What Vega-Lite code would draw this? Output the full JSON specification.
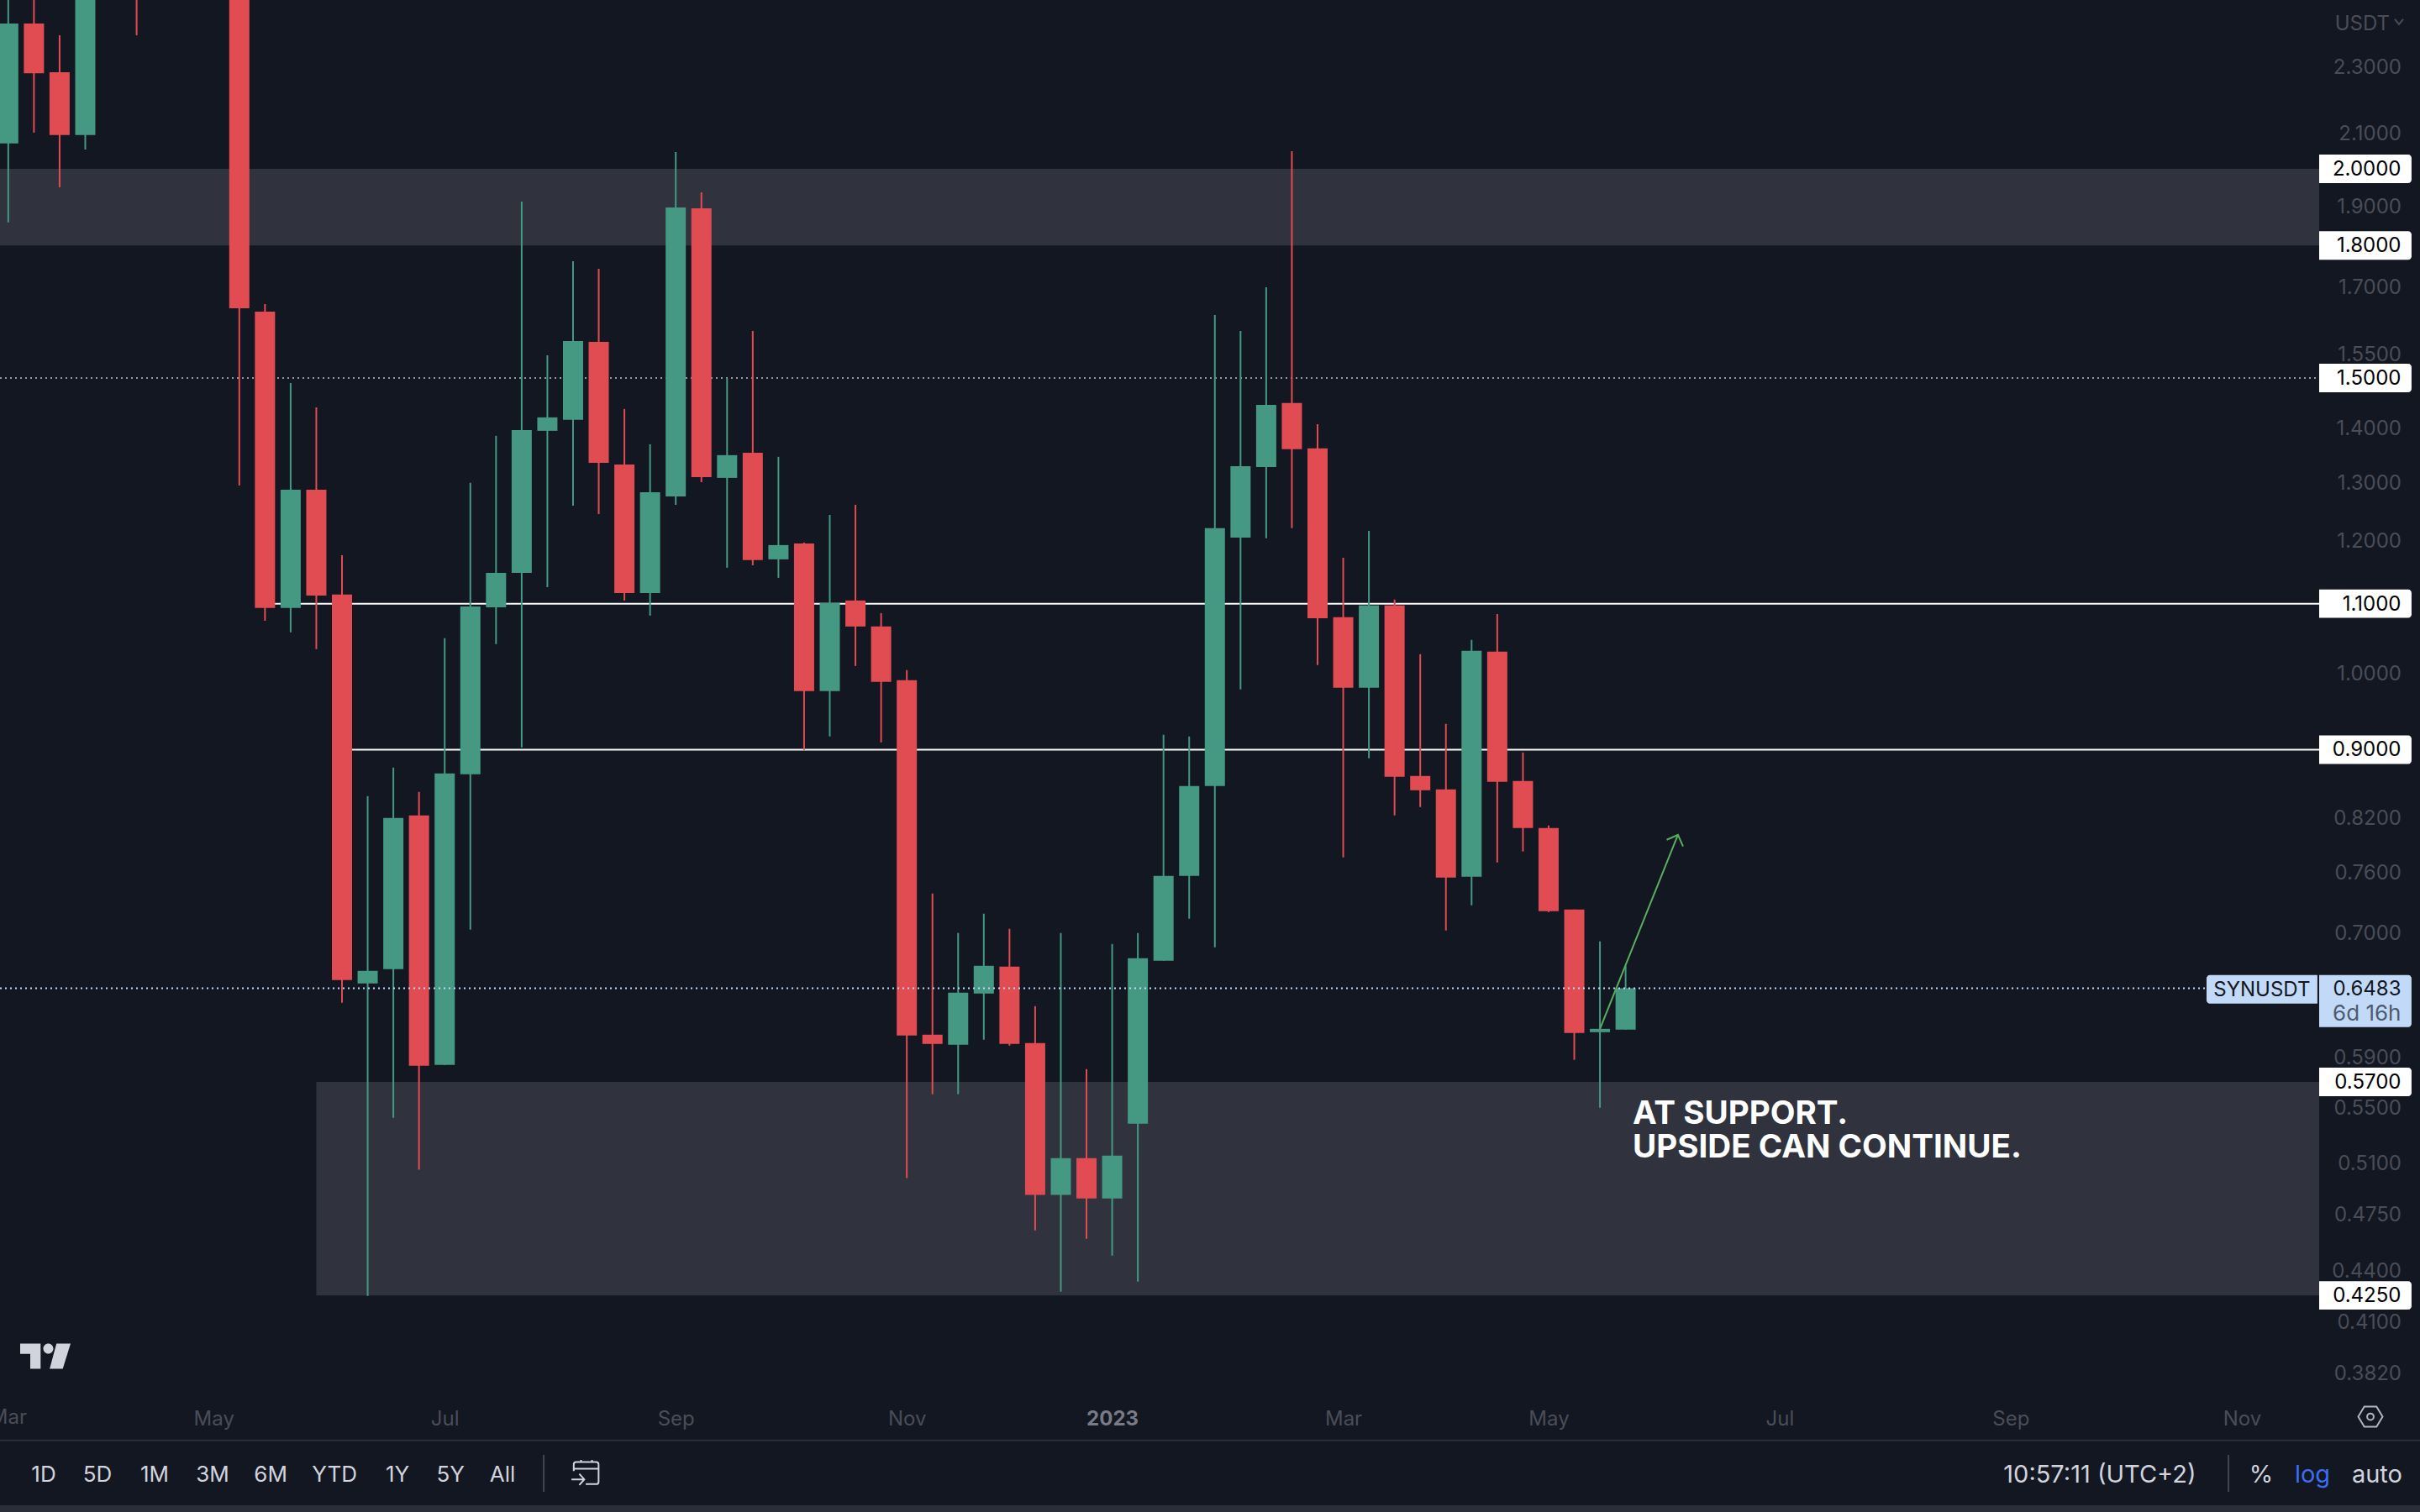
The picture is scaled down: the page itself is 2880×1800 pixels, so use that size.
{
"$schema":"https://vega.github.io/schema/vega-lite/v6.json",
"width":2880,"height":1800,"padding":0,"autosize":{"type":"fit","contains":"padding"},"background":"#131722",
"config":{"view":{"stroke":null},"text":{"font":"Inter"},"axis":{"labelFont":"Inter"}},
"datasets":{
"candles":[
{"date":"2022-03-07","open":2.071,"high":2.642,"low":1.858,"close":2.442},
{"date":"2022-03-14","open":2.442,"high":2.611,"low":2.102,"close":2.281},
{"date":"2022-03-21","open":2.284,"high":2.403,"low":1.950,"close":2.095},
{"date":"2022-03-28","open":2.095,"high":2.831,"low":2.054,"close":2.704},
{"date":"2022-04-11","open":3.0,"high":3.105,"low":2.403,"close":2.582},
{"date":"2022-05-09","open":3.567,"high":3.779,"low":1.294,"close":1.651},
{"date":"2022-05-16","open":1.6436,"high":1.6608,"low":1.0746,"close":1.0934},
{"date":"2022-05-23","open":1.0934,"high":1.4900,"low":1.0575,"close":1.2867},
{"date":"2022-05-30","open":1.2867,"high":1.4409,"low":1.0333,"close":1.1125},
{"date":"2022-06-06","open":1.1138,"high":1.1759,"low":0.6355,"close":0.6556},
{"date":"2022-06-13","open":0.6526,"high":0.8443,"low":0.4247,"close":0.6640},
{"date":"2022-06-20","open":0.6655,"high":0.8781,"low":0.5425,"close":0.8193},
{"date":"2022-06-27","open":0.8222,"high":0.8492,"low":0.5051,"close":0.5828},
{"date":"2022-07-04","open":0.5835,"high":1.0490,"low":0.5835,"close":0.8710},
{"date":"2022-07-11","open":0.8700,"high":1.2987,"low":0.7027,"close":1.0959},
{"date":"2022-07-18","open":1.0946,"high":1.3855,"low":1.0405,"close":1.1477},
{"date":"2022-07-25","open":1.1477,"high":1.9120,"low":0.9028,"close":1.3967},
{"date":"2022-08-01","open":1.3951,"high":1.5478,"low":1.1254,"close":1.4211},
{"date":"2022-08-08","open":1.4162,"high":1.7615,"low":1.2588,"close":1.5785},
{"date":"2022-08-15","open":1.5767,"high":1.7433,"low":1.2443,"close":1.3351},
{"date":"2022-08-22","open":1.3321,"high":1.4376,"low":1.1048,"close":1.1163},
{"date":"2022-08-29","open":1.1163,"high":1.3695,"low":1.0821,"close":1.2823},
{"date":"2022-09-05","open":1.2749,"high":2.0468,"low":1.2602,"close":1.8966},
{"date":"2022-09-12","open":1.8944,"high":1.9364,"low":1.3001,"close":1.3092},
{"date":"2022-09-19","open":1.3077,"high":1.5004,"low":1.1557,"close":1.3492},
{"date":"2022-09-26","open":1.3538,"high":1.6005,"low":1.1597,"close":1.1678},
{"date":"2022-10-03","open":1.1691,"high":1.3461,"low":1.1398,"close":1.1923},
{"date":"2022-10-10","open":1.1950,"high":1.1964,"low":0.8996,"close":0.9753},
{"date":"2022-10-17","open":0.9753,"high":1.2429,"low":0.9164,"close":1.1010},
{"date":"2022-10-24","open":1.1048,"high":1.2602,"low":1.0097,"close":1.0660},
{"date":"2022-10-31","open":1.0660,"high":1.0858,"low":0.9090,"close":0.9878},
{"date":"2022-11-07","open":0.9901,"high":1.0039,"low":0.4993,"close":0.6075},
{"date":"2022-11-14","open":0.6082,"high":0.7385,"low":0.5604,"close":0.6005},
{"date":"2022-11-21","open":0.5998,"high":0.6995,"low":0.5604,"close":0.6444},
{"date":"2022-11-28","open":0.6436,"high":0.7183,"low":0.6040,"close":0.6686},
{"date":"2022-12-05","open":0.6678,"high":0.7035,"low":0.5991,"close":0.6005},
{"date":"2022-12-12","open":0.6012,"high":0.6326,"low":0.4647,"close":0.4879},
{"date":"2022-12-19","open":0.4879,"high":0.6995,"low":0.4271,"close":0.5133},
{"date":"2022-12-26","open":0.5133,"high":0.5801,"low":0.4594,"close":0.4856},
{"date":"2023-01-02","open":0.4856,"high":0.6890,"low":0.4489,"close":0.5151},
{"date":"2023-01-09","open":0.5382,"high":0.6995,"low":0.4331,"close":0.6756},
{"date":"2023-01-16","open":0.6733,"high":0.9185,"low":0.6733,"close":0.7566},
{"date":"2023-01-23","open":0.7566,"high":0.9164,"low":0.7133,"close":0.8561},
{"date":"2023-01-30","open":0.8561,"high":1.6361,"low":0.6859,"close":1.2202},
{"date":"2023-02-06","open":1.2047,"high":1.6005,"low":0.9776,"close":1.3290},
{"date":"2023-02-13","open":1.3275,"high":1.6995,"low":1.2034,"close":1.4459},
{"date":"2023-02-20","open":1.4493,"high":2.0492,"low":1.2202,"close":1.3601},
{"date":"2023-02-27","open":1.3617,"high":1.4080,"low":1.0109,"close":1.0783},
{"date":"2023-03-06","open":1.0796,"high":1.1718,"low":0.7761,"close":0.9799},
{"date":"2023-03-13","open":0.9799,"high":1.2159,"low":0.8893,"close":1.0972},
{"date":"2023-03-20","open":1.0972,"high":1.1061,"low":0.8222,"close":0.8670},
{"date":"2023-03-27","open":0.8680,"high":1.0262,"low":0.8317,"close":0.8511},
{"date":"2023-04-03","open":0.8521,"high":0.9324,"low":0.7019,"close":0.7548},
{"date":"2023-04-10","open":0.7557,"high":1.0465,"low":0.7266,"close":1.0309},
{"date":"2023-04-17","open":1.0297,"high":1.0845,"low":0.7707,"close":0.8610},
{"date":"2023-04-24","open":0.8620,"high":0.8965,"low":0.7824,"close":0.8081},
{"date":"2023-05-01","open":0.8081,"high":0.8109,"low":0.7199,"close":0.7208},
{"date":"2023-05-08","open":0.7224,"high":0.7224,"low":0.5875,"close":0.6096},
{"date":"2023-05-15","open":0.6103,"high":0.6914,"low":0.5501,"close":0.6131},
{"date":"2023-05-22","open":0.6124,"high":0.6686,"low":0.6124,"close":0.6483}
],
"zones":[
{"date":"2022-03-04T18:00:00Z","to":"2023-11-27T02:30:00Z","price":1.8,"top":2.0},
{"date":"2022-05-30","to":"2023-11-27T02:30:00Z","price":0.425,"top":0.57}
],
"levels":[
{"date":"2022-05-16","to":"2023-11-27T02:30:00Z","price":1.1},
{"date":"2022-06-06","to":"2023-11-27T02:30:00Z","price":0.9}
],
"dotted":[{"date":"2022-03-04T18:00:00Z","to":"2023-11-26T12:00:00Z","price":1.5}],
"last":[{"date":"2022-03-04T18:00:00Z","to":"2023-10-27T09:30:00Z","price":0.6483}],
"arrow":[
{"date":"2023-05-15","price":0.6131,"part":"shaft"},
{"date":"2023-06-05T06:30:00Z","price":0.8006,"part":"shaft"},
{"date":"2023-06-02T05:00:00Z","price":0.7951,"part":"head"},
{"date":"2023-06-05T06:30:00Z","price":0.8006,"part":"head"},
{"date":"2023-06-06T16:00:00Z","price":0.7878,"part":"head"}
],
"tags":[
{"date":"2023-11-27T02:30:00Z","to":"2023-12-22T07:00:00Z","labelDate":"2023-12-19T10:30:00Z","level":2.0,"price":1.9612,"top":2.0396},
{"date":"2023-11-27T02:30:00Z","to":"2023-12-22T07:00:00Z","labelDate":"2023-12-19T10:30:00Z","level":1.8,"price":1.7651,"top":1.8356},
{"date":"2023-11-27T02:30:00Z","to":"2023-12-22T07:00:00Z","labelDate":"2023-12-19T10:30:00Z","level":1.5,"price":1.4709,"top":1.5297},
{"date":"2023-11-27T02:30:00Z","to":"2023-12-22T07:00:00Z","labelDate":"2023-12-19T10:30:00Z","level":1.1,"price":1.0787,"top":1.1218},
{"date":"2023-11-27T02:30:00Z","to":"2023-12-22T07:00:00Z","labelDate":"2023-12-19T10:30:00Z","level":0.9,"price":0.8825,"top":0.9178},
{"date":"2023-11-27T02:30:00Z","to":"2023-12-22T07:00:00Z","labelDate":"2023-12-19T10:30:00Z","level":0.57,"price":0.5589,"top":0.5813},
{"date":"2023-11-27T02:30:00Z","to":"2023-12-22T07:00:00Z","labelDate":"2023-12-19T10:30:00Z","level":0.425,"price":0.4168,"top":0.4334}
],
"note":[
{"date":"2023-05-23T22:00:00Z","price":0.5456,"label":"AT SUPPORT."},
{"date":"2023-05-23T22:00:00Z","price":0.5207,"label":"UPSIDE CAN CONTINUE."}
],
"toolbar":[
{"date":"2022-03-16T16:00:00Z","price":0.33237,"label":"1D"},
{"date":"2022-03-31T08:00:00Z","price":0.33237,"label":"5D"},
{"date":"2022-04-15T22:00:00Z","price":0.33237,"label":"1M"},
{"date":"2022-05-01T17:30:00Z","price":0.33237,"label":"3M"},
{"date":"2022-05-17T13:00:00Z","price":0.33237,"label":"6M"},
{"date":"2022-06-03T23:00:00Z","price":0.33237,"label":"YTD"},
{"date":"2022-06-21T03:00:00Z","price":0.33237,"label":"1Y"},
{"date":"2022-07-05T14:00:00Z","price":0.33237,"label":"5Y"},
{"date":"2022-07-19T18:30:00Z","price":0.33237,"label":"All"}
],
"toolbarRight":[
{"date":"2023-09-28T07:00:00Z","price":0.33237,"label":"10:57:11 (UTC+2)"},
{"date":"2023-11-11T07:00:00Z","price":0.33237,"label":"%"},
{"date":"2023-12-12T21:40:00Z","price":0.33237,"label":"auto"}
],
"separators":[
{"date":"2022-07-31","price":0.3244,"top":0.3413},
{"date":"2023-11-02T09:00:00Z","price":0.3244,"top":0.3413}
],
"frame":[
{"date":"2022-03-04T18:00:00Z","to":"2023-12-24T14:24:00Z","price":0.3482}
],
"strip":[
{"date":"2022-03-04T18:00:00Z","to":"2023-12-24T14:24:00Z","price":0.31554,"top":0.3185}
]
},
"encoding":{
"x":{"field":"date","type":"temporal","title":null,
 "scale":{"type":"utc","domain":["2022-03-04T18:00:00Z","2023-12-24T14:24:00Z"],"nice":false,"padding":0},
 "axis":{"orient":"bottom","title":null,"domain":false,"ticks":false,"grid":false,"minExtent":0,"maxExtent":0,"labelPadding":-110.5,"labelBaseline":"middle","labelFontSize":24,"labelOverlap":false,"labelFlush":false,"labelBound":false,
  "values":["2022-05-02T00:00:00Z","2022-07-04T00:00:00Z","2022-09-05T00:00:00Z","2022-11-07T00:00:00Z","2023-01-02T00:00:00Z","2023-03-06T00:00:00Z","2023-05-01T00:00:00Z","2023-07-03T00:00:00Z","2023-09-04T00:00:00Z","2023-11-06T00:00:00Z"],
  "labelExpr":"utcmonth(datum.value)==0 ? '2023' : utcFormat(datum.value,'%b')",
  "labelColor":{"condition":{"test":"utcmonth(datum.value)==0","value":"#787B86"},"value":"#4A4D57"},
  "labelFontWeight":{"condition":{"test":"utcmonth(datum.value)==0","value":700},"value":400}}},
"y":{"field":"price","type":"quantitative","title":null,
 "scale":{"type":"log","domain":[0.31554,2.5225],"range":[1800,0],"nice":false,"zero":false},
 "axis":{"orient":"right","title":null,"domain":false,"ticks":false,"grid":false,"minExtent":0,"maxExtent":0,"labelPadding":-22.5,"labelOffset":1,"labelAlign":"right","labelBaseline":"middle","labelFontSize":24,"labelColor":"#4A4D57","labelOverlap":false,"labelFlush":false,"labelBound":false,"format":".4f",
  "values":[2.3,2.1,1.9,1.7,1.55,1.4,1.3,1.2,1.0,0.82,0.76,0.7,0.59,0.55,0.51,0.475,0.44,0.41,0.382]}}
},
"layer":[
{"data":{"name":"zones"},"mark":{"type":"rect","color":"#30333D"},"encoding":{"x2":{"field":"to"},"y2":{"field":"top"}}},
{"data":{"name":"dotted"},"mark":{"type":"rule","color":"#9598A1","strokeWidth":2,"strokeDash":[2,4],"clip":true},"encoding":{"x2":{"field":"to"}}},
{"data":{"name":"levels"},"mark":{"type":"rule","color":"#FFFFFF","strokeWidth":2},"encoding":{"x2":{"field":"to"}}},
{"data":{"name":"candles"},"mark":{"type":"rule","strokeWidth":2,"clip":true},"encoding":{
 "y":{"field":"low","type":"quantitative"},"y2":{"field":"high"},
 "color":{"condition":{"test":"datum.close>=datum.open","value":"#459882"},"value":"#E14B52"}}},
{"data":{"name":"candles"},"mark":{"type":"bar","size":24,"orient":"vertical","clip":true},"encoding":{
 "y":{"field":"open","type":"quantitative"},"y2":{"field":"close"},
 "color":{"condition":{"test":"datum.close>=datum.open","value":"#459882"},"value":"#E14B52"}}},
{"data":{"name":"last"},"mark":{"type":"rule","color":"#C2D9F8","strokeWidth":2,"strokeDash":[2,4],"clip":true},"encoding":{"x2":{"field":"to"}}},
{"data":{"name":"arrow"},"mark":{"type":"line","color":"#5AAE61","strokeWidth":2},"encoding":{"detail":{"field":"part"}}},
{"data":{"name":"tags"},"mark":{"type":"rect","color":"#FFFFFF","cornerRadiusTopRight":4,"cornerRadiusBottomRight":4},"encoding":{"x2":{"field":"to"},"y2":{"field":"top"}}},
{"data":{"name":"tags"},"mark":{"type":"text","align":"right","baseline":"middle","fontSize":24,"color":"#000000","dy":1},"encoding":{"x":{"field":"labelDate","type":"temporal"},"y":{"field":"level","type":"quantitative"},"text":{"field":"level","type":"quantitative","format":".4f"}}},
{"data":{"values":[{"date":"2023-10-27T09:30:00Z","to":"2023-11-26T15:00:00Z","price":0.6348,"top":0.6602}]},"mark":{"type":"rect","color":"#C2D9F8","cornerRadiusTopLeft":4,"cornerRadiusBottomLeft":4},"encoding":{"x2":{"field":"to"},"y2":{"field":"top"}}},
{"data":{"values":[{"date":"2023-11-27T02:30:00Z","to":"2023-12-22T07:00:00Z","price":0.6146,"top":0.6602}]},"mark":{"type":"rect","color":"#C2D9F8","cornerRadiusTopRight":4,"cornerRadiusBottomRight":4},"encoding":{"x2":{"field":"to"},"y2":{"field":"top"}}},
{"data":{"values":[{"date":"2023-11-11T12:00:00Z","price":0.6475,"label":"SYNUSDT"}]},"mark":{"type":"text","align":"center","baseline":"middle","fontSize":24,"color":"#131722","dy":1},"encoding":{"text":{"field":"label"}}},
{"data":{"values":[{"date":"2023-12-19T10:30:00Z","price":0.6483,"label":"0.6483"}]},"mark":{"type":"text","align":"right","baseline":"middle","fontSize":24,"color":"#131722","dy":2},"encoding":{"text":{"field":"label"}}},
{"data":{"values":[{"date":"2023-12-19T10:30:00Z","price":0.6270,"label":"6d 16h"}]},"mark":{"type":"text","align":"right","baseline":"middle","fontSize":26,"color":"#4F5B6E","dy":2},"encoding":{"text":{"field":"label"}}},
{"data":{"name":"note"},"mark":{"type":"text","align":"left","baseline":"middle","fontSize":38.6,"fontWeight":700,"color":"#FFFFFF"},"encoding":{"text":{"field":"label"}}},
{"data":{"values":[{"date":"2023-12-16T08:30:00Z","price":2.442,"label":"USDT"}]},"mark":{"type":"text","align":"right","baseline":"middle","fontSize":24,"color":"#4A4D57","dy":1},"encoding":{"text":{"field":"label"}}},
{"data":{"values":[{"date":"2022-03-07","price":0.35950,"label":"Mar"}]},"mark":{"type":"text","align":"center","baseline":"middle","fontSize":24,"color":"#4A4D57","clip":true,"dy":1},"encoding":{"text":{"field":"label"}}},
{"data":{"values":[{"date":"2023-12-18T21:00:00Z","price":2.448}]},"mark":{"type":"point","shape":"M-1,-.6 L0,.6 L1,-.6","size":100,"filled":false,"opacity":1,"stroke":"#4A4D57","strokeWidth":2}},
{"data":{"values":[{"date":"2022-03-17T03:00:00Z","price":0.3909}]},"mark":{"type":"point","shape":"M-1,-.5 H-.19 V.5 H-.6 V-.09 H-1 Z M-.085,-.3 A.2,.2 0 1,0 .315,-.3 A.2,.2 0 1,0 -.085,-.3 Z M.44,-.5 H1 L.69,.5 H.17 Z","size":3600,"filled":true,"opacity":1,"fill":"#D1D4DC","stroke":null}},
{"data":{"values":[{"date":"2023-12-11T02:00:00Z","price":0.3597}]},"mark":{"type":"point","shape":"M-1,0 L-.5,-.83 H.5 L1,0 L.5,.83 H-.5 Z M-.27,0 A.27,.27 0 1,0 .27,0 A.27,.27 0 1,0 -.27,0 Z","size":841,"filled":false,"opacity":1,"stroke":"#B2B5BE","strokeWidth":2}},
{"data":{"values":[{"date":"2022-08-11T11:00:00Z","price":0.3332}]},"mark":{"type":"point","shape":"M-.84,-.1 V-.55 Q-.84,-.72 -.67,-.72 H.73 Q.9,-.72 .9,-.55 V.65 Q.9,.82 .73,.82 H0 M-.84,-.25 H.9 M-.33,-.88 V-.72 M.44,-.88 V-.72 M-1,.49 H-.1 M-.45,.1 L-.1,.49 L-.45,.88","size":1156,"filled":false,"opacity":1,"stroke":"#D1D4DC","strokeWidth":2}},
{"data":{"name":"frame"},"mark":{"type":"rule","color":"#2A2E39","strokeWidth":2,"clip":true},"encoding":{"x2":{"field":"to"}}},
{"data":{"name":"strip"},"mark":{"type":"rect","color":"#2A2E39"},"encoding":{"x2":{"field":"to"},"y2":{"field":"top"}}},
{"data":{"name":"separators"},"mark":{"type":"rule","color":"#434651","strokeWidth":2},"encoding":{"y2":{"field":"top"}}},
{"data":{"name":"toolbar"},"mark":{"type":"text","align":"center","baseline":"middle","fontSize":26,"color":"#D1D4DC","dy":1},"encoding":{"text":{"field":"label"}}},
{"data":{"name":"toolbarRight"},"mark":{"type":"text","align":"center","baseline":"middle","fontSize":29,"color":"#D1D4DC","dy":1},"encoding":{"text":{"field":"label"}}},
{"data":{"values":[{"date":"2023-11-25T06:30:00Z","price":0.33237,"label":"log"}]},"mark":{"type":"text","align":"center","baseline":"middle","fontSize":29,"color":"#3B6EF0","dy":1},"encoding":{"text":{"field":"label"}}}
]
}
